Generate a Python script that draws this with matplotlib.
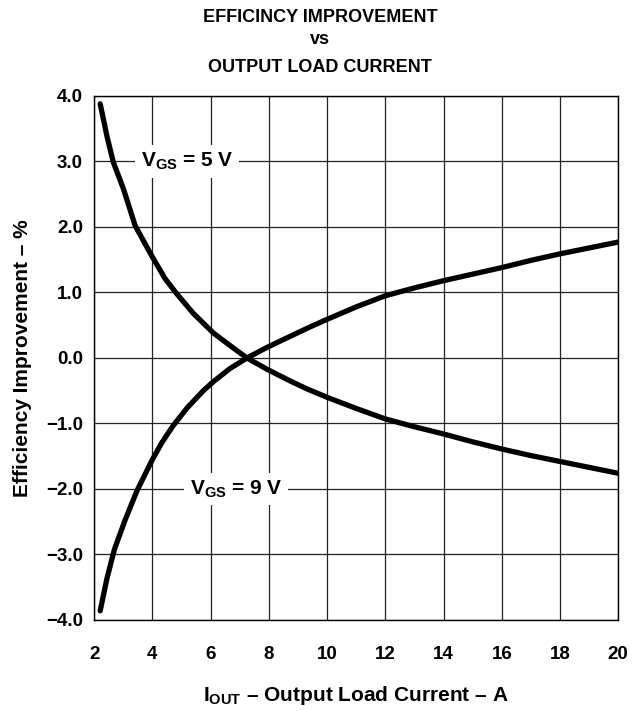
import matplotlib.pyplot as plt

plt.rcParams['font.family'] = ['Liberation Sans', 'DejaVu Sans']
plt.rcParams['font.weight'] = 'bold'
plt.rcParams['mathtext.fontset'] = 'custom'
plt.rcParams['mathtext.rm'] = 'Liberation Sans:bold'
plt.rcParams['mathtext.it'] = 'Liberation Sans:bold'
plt.rcParams['mathtext.bf'] = 'Liberation Sans:bold'

# values
current5 = [2.21, 2.44, 2.66, 3.01, 3.41, 3.98, 4.44, 4.84, 5.41, 6.1, 6.67, 7.25, 7.93, 8.73, 9.3,
            10.0, 11.0, 12.0, 13.0, 14.0, 15.0, 16.0, 17.0, 18.0, 19.0, 20.0]
vgs5 = [3.88, 3.39, 2.99, 2.58, 2.02, 1.56, 1.21, 0.98, 0.68, 0.38, 0.19, 0.0, -0.17, -0.35, -0.47,
        -0.6, -0.77, -0.93, -1.05, -1.16, -1.28, -1.39, -1.49, -1.58, -1.67, -1.76]

current9 = [2.21, 2.44, 2.7, 3.06, 3.47, 3.98, 4.33, 4.72, 5.2, 5.75, 6.1, 6.67, 7.25, 7.93, 8.73, 9.3,
            10.0, 11.0, 12.0, 13.0, 14.0, 15.0, 16.0, 17.0, 18.0, 19.0, 20.0]
vgs9 = [-3.86, -3.37, -2.92, -2.48, -2.03, -1.57, -1.29, -1.03, -0.76, -0.5, -0.36, -0.16, 0.0, 0.16, 0.33, 0.45,
        0.59, 0.78, 0.95, 1.07, 1.18, 1.28, 1.38, 1.49, 1.59, 1.68, 1.77]

xticks = [2, 4, 6, 8, 10, 12, 14, 16, 18, 20]
yticks = [-4, -3, -2, -1, 0, 1, 2, 3, 4]
ytick_labels = ['\u22124.0', '\u22123.0', '\u22122.0', '\u22121.0', '0.0', '1.0', '2.0', '3.0', '4.0']

fig = plt.figure(figsize=(6.4, 7.11), dpi=100)
ax = fig.add_axes([0.147, 0.128, 0.819, 0.737])

ax.plot(current5, vgs5, color='black', linewidth=3.8, solid_capstyle='round',
        solid_joinstyle='round', zorder=3)
ax.plot(current9, vgs9, color='black', linewidth=3.8, solid_capstyle='round',
        solid_joinstyle='round', zorder=3)

ax.set_xlim(2, 20)
ax.set_ylim(-4, 4)
ax.set_xticks(xticks)
ax.set_yticks(yticks)
ax.set_yticklabels(ytick_labels)
ax.tick_params(length=0, labelsize=13.5)
ax.tick_params(axis='y', pad=8)
ax.tick_params(axis='x', pad=19)
for lbl in ax.get_xticklabels() + ax.get_yticklabels():
    lbl.set_fontweight('bold')
ax.grid(True, color='#222222', linewidth=0.9)
for s in ax.spines.values():
    s.set_linewidth(1.0)

box = dict(facecolor='white', edgecolor='none', pad=4)
ax.text(5.2, 3.0, r'V$_{\mathrm{GS}}$ = 5 V', fontsize=15, fontweight='bold',
        ha='center', va='center', bbox=box, zorder=2)
ax.text(6.88, -2.0, r'V$_{\mathrm{GS}}$ = 9 V', fontsize=15, fontweight='bold',
        ha='center', va='center', bbox=box, zorder=2)

ax.set_xlabel('I$_{\\mathrm{OUT}}$ \u2013 Output Load Current \u2013 A',
              fontsize=15, fontweight='bold', labelpad=15)
ax.set_ylabel('Efficiency Improvement \u2013 %', fontsize=15, fontweight='bold', labelpad=10)

fig.text(0.5, 0.976, 'EFFICINCY IMPROVEMENT', ha='center', va='center', fontsize=13, fontweight='bold')
fig.text(0.5, 0.944, 'vs', ha='center', va='center', fontsize=13, fontweight='bold')
fig.text(0.5, 0.905, 'OUTPUT LOAD CURRENT', ha='center', va='center', fontsize=13, fontweight='bold')

fig.savefig('out.png', dpi=100)
